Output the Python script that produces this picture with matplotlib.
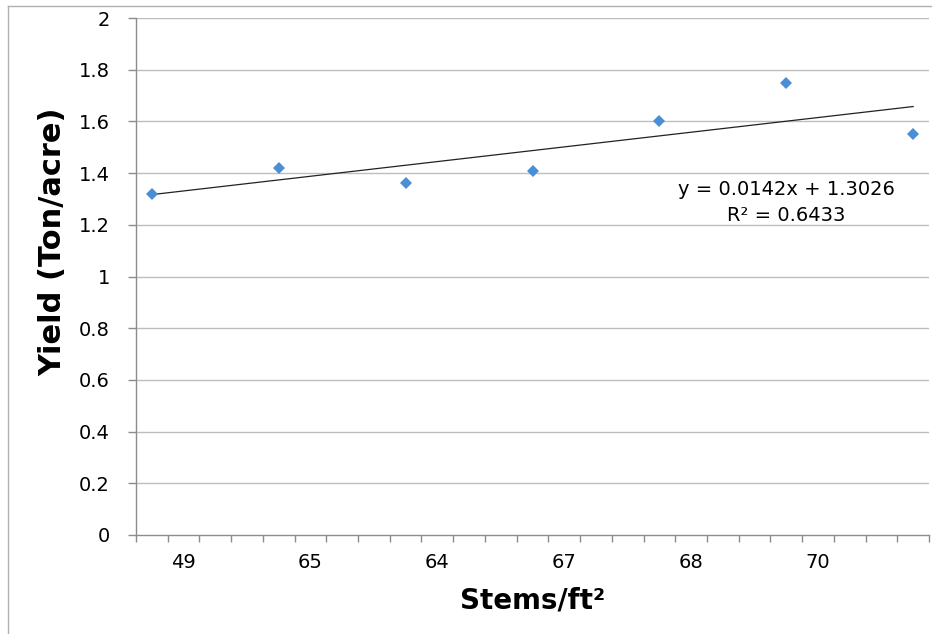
import numpy as np
import matplotlib
matplotlib.use('Agg')
import matplotlib.pyplot as plt
from matplotlib.lines import Line2D

# Yield vs stem density, Excel-style scatter with a linear trendline.

positions = [1, 2, 3, 4, 5, 6, 7]
yields = [1.32, 1.42, 1.36, 1.41, 1.60, 1.75, 1.55]
tick_labels = ['49', '65', '64', '67', '68', '70']
label_positions = [1.25, 2.25, 3.25, 4.25, 5.25, 6.25]
y_ticks = [0, 0.2, 0.4, 0.6, 0.8, 1, 1.2, 1.4, 1.6, 1.8, 2]
y_tick_labels = ['0', '0.2', '0.4', '0.6', '0.8', '1', '1.2', '1.4', '1.6', '1.8', '2']
equation = 'y = 0.0142x + 1.3026'
r_squared = 'R² = 0.6433'

plt.rcParams['font.family'] = ['DejaVu Sans']

fig = plt.figure(figsize=(9.32, 6.34), dpi=100)
fig.patch.set_facecolor('white')

# Chart area border: only the top and left edges show in the original.
border_left = 7.5 / 932
border_top = 1 - 5.5 / 634
fig.add_artist(Line2D([border_left, border_left], [0, border_top],
                      transform=fig.transFigure, color='#b0b0b0', linewidth=1.0))
fig.add_artist(Line2D([border_left, 1], [border_top, border_top],
                      transform=fig.transFigure, color='#b0b0b0', linewidth=1.0))

ax = fig.add_axes([136 / 932, 1 - 535 / 634, (929 - 136) / 932, (535 - 18) / 634])

grey = '#8c8c8c'
for y in y_ticks[1:]:
    ax.axhline(y, color='#bdbdbd', linewidth=1.0, zorder=1)

ax.plot(positions, yields, linestyle='none', marker='D', markersize=6,
        color='#4a8fd6', markeredgewidth=0, zorder=3)

# Linear trendline over the plotted points.
slope, intercept = np.polyfit(positions, yields, 1)
fit_x = np.array([positions[0], positions[-1]])
ax.plot(fit_x, slope * fit_x + intercept, color='#222222', linewidth=0.9, zorder=2)

ax.set_xlim(0.875, 7.125)
ax.set_ylim(0, 2)

ax.set_xticks(np.arange(0.875, 7.126, 0.25), minor=True)
ax.set_xticks(label_positions)
ax.set_xticklabels(tick_labels)
ax.set_yticks(y_ticks)
ax.set_yticklabels(y_tick_labels)

ax.tick_params(axis='x', which='major', length=0, pad=13, labelsize=14)
ax.tick_params(axis='x', which='minor', length=5, width=1, color=grey, direction='out')
ax.tick_params(axis='y', length=5.8, width=1, color=grey, direction='out', pad=13, labelsize=14)

for side in ['top', 'right']:
    ax.spines[side].set_visible(False)
for side in ['left', 'bottom']:
    ax.spines[side].set_color(grey)
    ax.spines[side].set_linewidth(1.0)

ax.set_xlabel('Stems/ft²', fontsize=20, fontweight='bold')
ax.set_ylabel('Yield (Ton/acre)', fontsize=22, fontweight='bold')
ax.xaxis.set_label_coords(0.5, -0.099)
ax.yaxis.set_label_coords(-0.086, 0.567)

ax.text(6.0, 1.335, equation, fontsize=14, ha='center', va='center')
ax.text(6.0, 1.237, r_squared, fontsize=14, ha='center', va='center')

fig.savefig('out.png', dpi=100)
